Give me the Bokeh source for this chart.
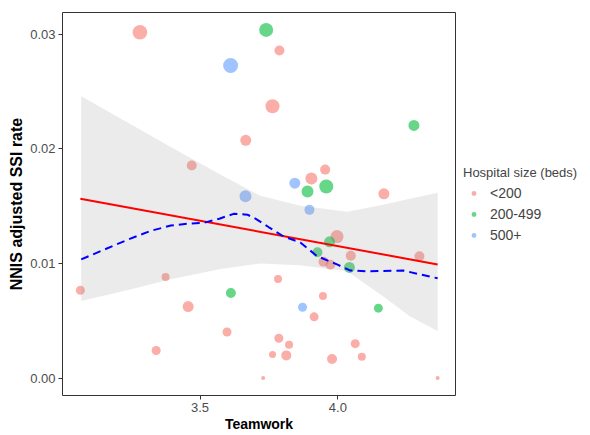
from bokeh.plotting import figure
from bokeh.models import Range1d, FixedTicker, Legend, LegendItem, NumeralTickFormatter, ColumnDataSource
from bokeh.embed import file_html
from bokeh.resources import INLINE

# ---- data ----
teamwork = [3.282, 3.740, 3.788, 3.611, 3.763, 4.276, 3.666, 3.470, 3.954, 3.904,
            3.844, 3.958, 3.890, 4.167, 3.665, 3.897, 3.997, 3.970, 3.926, 4.047,
            4.296, 3.948, 3.973, 4.042, 3.375, 3.783, 3.066, 3.612, 3.946, 3.872,
            3.457, 4.147, 3.914, 3.598, 3.786, 3.823, 4.063, 3.341, 3.763, 3.813,
            4.087, 3.979, 3.729, 4.362]
ssi_rate = [0.03015, 0.03036, 0.02856, 0.02726, 0.02370, 0.02203, 0.02073, 0.01853, 0.01818, 0.01740,
            0.01700, 0.01670, 0.01627, 0.01607, 0.01585, 0.01467, 0.01234, 0.01188, 0.01098, 0.01067,
            0.01063, 0.01015, 0.00989, 0.00965, 0.00881, 0.00864, 0.00766, 0.00742, 0.00716, 0.00618,
            0.00624, 0.00610, 0.00534, 0.00402, 0.00347, 0.00291, 0.00300, 0.00241, 0.00206, 0.00198,
            0.00187, 0.00167, 0.00000, 0.00000]
hospital_size = ["<200", "200-499", "<200", "500+", "<200", "200-499", "<200", "<200", "<200", "<200",
                 "500+", "200-499", "200-499", "<200", "500+", "500+", "<200", "200-499", "200-499", "<200",
                 "<200", "<200", "<200", "200-499", "<200", "<200", "<200", "200-499", "<200", "500+",
                 "<200", "200-499", "<200", "<200", "<200", "<200", "<200", "<200", "<200", "<200",
                 "<200", "<200", "<200", "<200"]
weight = [7.3, 7.0, 5.0, 7.5, 7.0, 5.5, 5.5, 5.0, 5.0, 6.0,
          5.5, 7.0, 6.0, 5.5, 6.0, 5.0, 6.5, 5.5, 5.0, 5.0,
          5.0, 5.0, 5.0, 5.5, 4.0, 4.0, 4.5, 5.0, 4.0, 4.5,
          5.5, 4.5, 4.5, 4.5, 4.5, 4.0, 4.5, 4.5, 3.5, 5.0,
          4.0, 5.0, 2.0, 2.0]

size_groups = ["<200", "200-499", "500+"]
group_colors = ["#F8766D", "#00BA38", "#619CFF"]

# linear fit (red line)
lm_x = [3.066, 4.362]
lm_y = [0.01564, 0.00991]

# confidence band
band_x = [3.069, 3.250, 3.394, 3.575, 3.719, 3.864, 4.034, 4.164, 4.261, 4.362]
band_upper = [0.02457, 0.02211, 0.02015, 0.01772, 0.01590, 0.01503, 0.01451, 0.01512, 0.01564, 0.01616]
band_lower = [0.00673, 0.00774, 0.00861, 0.00952, 0.01000, 0.00983, 0.00931, 0.00714, 0.00540, 0.00410]

# loess smooth (blue dashed)
loess_x = [3.069, 3.160, 3.239, 3.320, 3.394, 3.460, 3.513, 3.570, 3.622, 3.672, 3.701, 3.750,
           3.802, 3.864, 3.925, 3.997, 4.044, 4.100, 4.164, 4.236, 4.297, 4.362]
loess_y = [0.01035, 0.01128, 0.01208, 0.01283, 0.01330, 0.01348, 0.01353, 0.01390, 0.01432, 0.01425, 0.01390, 0.01315,
           0.01237, 0.01182, 0.01063, 0.00991, 0.00939, 0.00932, 0.00933, 0.00939, 0.00905, 0.00870]

x_ticks = [3.5, 4.0]
y_ticks = [0.00, 0.01, 0.02, 0.03]

# ---- ranges with 5% expansion ----
xmin, xmax = min(teamwork), max(teamwork)
ymin, ymax = min(ssi_rate), max(ssi_rate)
xpad = (xmax - xmin) * 0.05
ypad = (ymax - ymin) * 0.05

FONT = "Liberation Sans"

p = figure(frame_width=393, frame_height=383, output_backend="svg", toolbar_location=None,
           x_range=Range1d(xmin - xpad, xmax + xpad),
           y_range=Range1d(ymin - ypad, ymax + ypad),
           min_border_left=62, min_border_right=0, min_border_top=12, min_border_bottom=38)

p.background_fill_color = "white"
p.border_fill_color = "white"
p.outline_line_color = "#333333"
p.outline_line_width = 1
p.xgrid.visible = False
p.ygrid.visible = False

# points
renderers = []
for g, c in zip(size_groups, group_colors):
    idx = [i for i, h in enumerate(hospital_size) if h == g]
    src = ColumnDataSource(dict(
        x=[teamwork[i] for i in idx],
        y=[ssi_rate[i] for i in idx],
        s=[2 * weight[i] for i in idx],
    ))
    r = p.scatter("x", "y", size="s", source=src, fill_color=c, fill_alpha=0.6, line_color=None)
    renderers.append(r)

# band drawn over the points
p.varea(x=band_x, y1=band_lower, y2=band_upper, fill_color="#999999", fill_alpha=0.2)

# lines
p.line(lm_x, lm_y, line_color="#FF0000", line_width=2)
p.line(loess_x, loess_y, line_color="#0000FF", line_width=2, line_dash="8 5")

# axes
for ax in (p.xaxis[0], p.yaxis[0]):
    ax.axis_line_color = None
    ax.major_tick_line_color = "#333333"
    ax.major_tick_out = 4
    ax.major_tick_in = 0
    ax.minor_tick_line_color = None
    ax.major_label_text_color = "#4D4D4D"
    ax.major_label_text_font = FONT
    ax.major_label_text_font_size = "13px"
    ax.axis_label_text_font = FONT
    ax.axis_label_text_font_size = "14px"
    ax.axis_label_text_font_style = "bold"
    ax.axis_label_text_color = "black"

p.yaxis.axis_label_text_font_size = "16px"
p.xaxis.ticker = FixedTicker(ticks=x_ticks)
p.yaxis.ticker = FixedTicker(ticks=y_ticks)
p.xaxis.formatter = NumeralTickFormatter(format="0.0")
p.yaxis.formatter = NumeralTickFormatter(format="0.00")
p.xaxis.axis_label = "Teamwork"
p.yaxis.axis_label = "NNIS adjusted SSI rate"
p.xaxis.major_label_standoff = 3
p.xaxis.axis_label_standoff = 1
p.yaxis.major_label_standoff = 3
p.yaxis.axis_label_standoff = 2

# legend in the right side panel
items = [LegendItem(label=g, renderers=[r]) for g, r in zip(size_groups, renderers)]
legend = Legend(items=items, title="Hospital size (beds)", location="center_left")
legend.title_text_font = FONT
legend.title_text_font_size = "13px"
legend.title_text_font_style = "normal"
legend.title_standoff = 5
legend.label_text_font = FONT
legend.label_text_font_size = "14px"
legend.glyph_width = 21
legend.glyph_height = 12
legend.label_height = 16
legend.label_standoff = 6
legend.spacing = 5
legend.padding = 3
legend.margin = 8
legend.border_line_color = None
legend.background_fill_alpha = 0
p.add_layout(legend, "right")

open("out.html", "w").write(file_html(p, INLINE))
